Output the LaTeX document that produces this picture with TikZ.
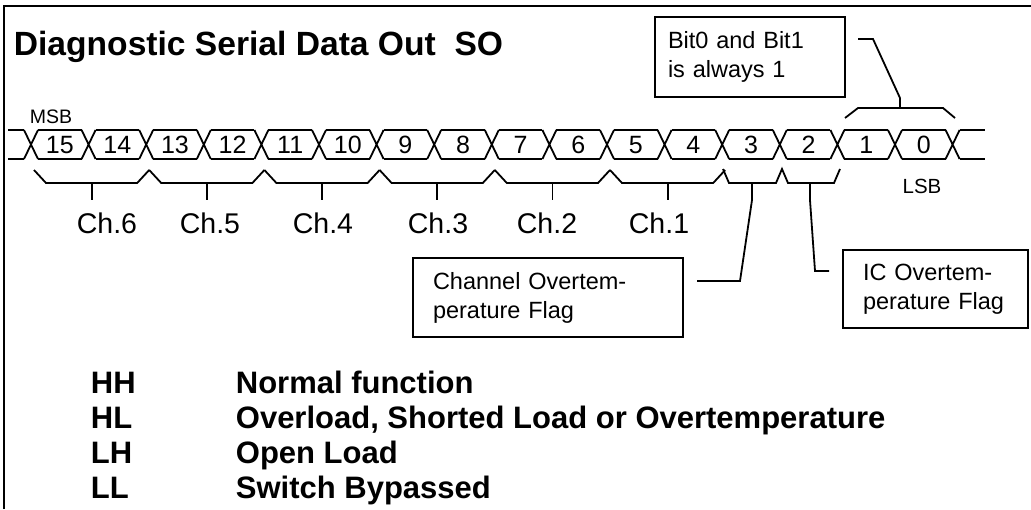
\documentclass[tikz,border=0pt]{standalone}
\usepackage{fontspec}
\setmainfont{Liberation Sans}

\begin{document}
\begin{tikzpicture}[x=1pt,y=-1pt,line width=1.8pt]
    \tikzset{bitlbl/.style = {font=\fontsize{25}{29}\selectfont, inner sep=0pt}}
    \tikzset{chlbl/.style = {font=\fontsize{28.5}{33}\selectfont, inner sep=0pt}}
    \tikzset{notebox/.style = {draw, line width=1.5pt, align=left, inner ysep=0pt, font=\fontsize{23.5}{29}\selectfont}}
    \tikzset{legend/.style = {anchor=base west, inner sep=0pt, font=\fontsize{31}{36}\selectfont\bfseries}}

    \useasboundingbox (0,0) rectangle (1031,509);

    % frame and title
    \draw[line width=2pt] (4,509) -- (4,6) -- (1031,6);
    \node[anchor=base west, inner sep=0pt, font=\fontsize{33.6}{40}\selectfont\bfseries] (title) at (13,55) {Diagnostic Serial Data Out\ \ SO};

    % bus
    \draw (8,130) -- (24,130) (8,159) -- (24,159);
    \draw (959.6,130) -- (985,130) (959.6,159) -- (985,159);
    \foreach \k in {0,...,16} {
        \pgfmathsetmacro{\xk}{31+57.6*\k}
        \draw (\xk-7,130) -- (\xk+7,159) (\xk-7,159) -- (\xk+7,130);
    }
    \foreach \b in {0,...,15} {
        \pgfmathsetmacro{\xl}{31+57.6*(15-\b)}
        \draw (\xl+7,130) -- (\xl+50.6,130) (\xl+7,159) -- (\xl+50.6,159);
        \node[bitlbl] (b\b) at (\xl+28.8,145) {\b};
    }
    \node[font=\fontsize{19.5}{23}\selectfont, inner sep=0pt] (msb) at (51,117) {MSB};
    \node[font=\fontsize{20.5}{24}\selectfont, inner sep=0pt] (lsb) at (922,186) {LSB};

    % channel braces
    \foreach \n in {6,...,1} {
        \pgfmathsetmacro{\xa}{31+115.2*(6-\n)}
        \pgfmathsetmacro{\xb}{\xa+115.2}
        \pgfmathsetmacro{\xm}{(\xa+\xb)/2+3}
        \draw (\xa+3,170) -- (\xa+15,183) -- (\xb-9,183) -- (\xb+3,170);
        \draw (\xm,183) -- (\xm,200);
    }
    \node[chlbl] (ch6) at (107,223) {Ch.6};
    \node[chlbl] (ch5) at (210,223) {Ch.5};
    \node[chlbl] (ch4) at (323,223) {Ch.4};
    \node[chlbl] (ch3) at (438,223) {Ch.3};
    \node[chlbl] (ch2) at (547,223) {Ch.2};
    \node[chlbl] (ch1) at (659,223) {Ch.1};

    % flag braces
    \draw (723,169) -- (729,183) -- (776,183) -- (782,169) -- (788,183) -- (834,183) -- (840,169);
    \coordinate (t3) at (752,200);
    \coordinate (t2) at (810,200);
    \draw (752,183) -- (t3);
    \draw (810,183) -- (t2);
    \draw (845,118) -- (858,108) -- (943,108) -- (955,118);
    \coordinate (t01) at (900,98);
    \draw (900,108) -- (t01);

    % boxes
    \node[notebox, text width=164pt, inner xsep=13pt, minimum height=80pt] (boxbit) at (750,57) {Bit0 and Bit1\\is always 1};
    \node[notebox, text width=230pt, inner xsep=20pt, minimum height=79pt] (boxch) at (548,297.5) {Channel Overtem-\\perature Flag};
    \node[notebox, text width=145pt, inner xsep=20pt, minimum height=78pt] (boxic) at (935.5,289) {IC Overtem-\\perature Flag};

    % leaders
    \coordinate (e01) at (858,39);
    \coordinate (e3) at (697,281);
    \coordinate (e2) at (829,271);
    \draw (t01) -- (873,39) -- (e01);
    \draw (t3) -- (740,281) -- (e3);
    \draw (t2) -- (815,271) -- (e2);

    % legend
    \node[legend] (hh) at (90,393) {HH};
    \node[legend] (hl) at (90,428) {HL};
    \node[legend] (lh) at (90,463) {LH};
    \node[legend] (ll) at (90,498) {LL};
    \node[legend] (hhtxt) at (235,393) {Normal function};
    \node[legend] (hltxt) at (235,428) {Overload, Shorted Load or Overtemperature};
    \node[legend] (lhtxt) at (235,463) {Open Load};
    \node[legend] (lltxt) at (235,498) {Switch Bypassed};
\end{tikzpicture}
\end{document}
